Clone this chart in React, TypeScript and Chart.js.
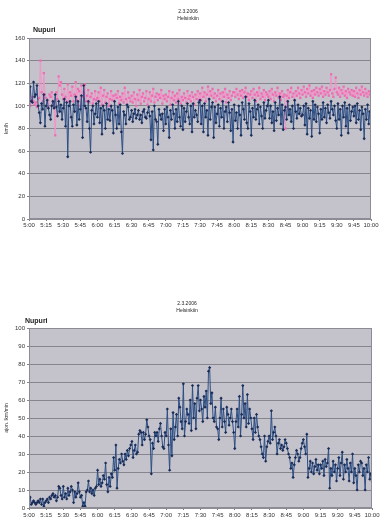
import React, { useEffect, useRef } from "react";
import { Chart, registerables } from "chart.js";
Chart.register(...registerables);

// Tick labels every 15 minutes (5:00 .. 10:00)
const TIME_LABELS = [
  "5:00", "5:15", "5:30", "5:45", "6:00", "6:15", "6:30", "6:45", "7:00", "7:15", "7:30",
  "7:45", "8:00", "8:15", "8:30", "8:45", "9:00", "9:15", "9:30", "9:45", "10:00",
];
const STEP_MIN = 1; // minutes between samples

// Top chart: speeds km/h (one row = 15 minutes)
const topBlue = [
  74, 117, 104, 103, 121, 108, 110, 118, 100, 94, 85, 102, 97, 110, 82,
  100, 105, 98, 92, 88, 100, 104, 98, 110, 99, 91, 104, 95, 101, 88,
  98, 106, 82, 103, 55, 100, 104, 90, 82, 101, 95, 108, 83, 104, 88,
  97, 109, 72, 118, 100, 98, 86, 104, 80, 59, 96, 100, 84, 93, 102,
  90, 104, 85, 98, 75, 100, 96, 80, 102, 88, 97, 87, 100, 96, 76,
  104, 92, 80, 99, 84, 101, 77, 58, 95, 92, 84, 101, 99, 88, 90,
  96, 86, 93, 97, 89, 92, 96, 88, 92, 85, 95, 97, 90, 89, 94,
  99, 91, 70, 95, 61, 100, 88, 86, 66, 97, 92, 88, 93, 78, 97,
  84, 99, 90, 72, 96, 88, 101, 93, 80, 97, 86, 104, 90, 82, 100,
  79, 98, 86, 95, 102, 90, 84, 100, 77, 102, 90, 96, 92, 86, 103,
  105, 84, 100, 77, 102, 90, 96, 74, 106, 88, 99, 103, 72, 99, 85,
  93, 101, 82, 98, 90, 104, 80, 95, 99, 86, 103, 94, 78, 97, 68,
  101, 87, 94, 80, 100, 92, 74, 103, 97, 88, 108, 85, 80, 102, 95,
  74, 98, 90, 105, 88, 97, 101, 84, 99, 91, 80, 103, 89, 96, 100,
  105, 89, 100, 85, 95, 78, 103, 87, 98, 92, 108, 84, 101, 79, 96,
  99, 88, 104, 92, 97, 86, 100, 80, 105, 95, 89, 101, 93, 98, 91,
  92, 100, 83, 102, 75, 98, 89, 96, 73, 104, 88, 101, 86, 99, 93,
  76, 97, 88, 103, 90, 98, 85, 101, 94, 89, 104, 97, 92, 100, 87,
  80, 102, 88, 97, 74, 100, 90, 103, 82, 98, 76, 101, 87, 95, 99,
  91, 100, 85, 102, 88, 96, 79, 99, 93, 71, 97, 88, 101, 84, 95,
  80,
];
const topPink = [
  102, 100, 105, 108, 104, 101, 103, 99, 106, 107, 140, 112, 104, 129, 110,
  107, 103, 99, 110, 108, 112, 104, 103, 74, 112, 106, 126, 118, 121, 110,
  106, 115, 108, 104, 119, 103, 112, 109, 117, 104, 110, 121, 105, 115, 113,
  100, 118, 108, 112, 119, 104, 109, 114, 103, 108, 111, 102, 106, 113, 105,
  107, 112, 104, 116, 101, 109, 114, 103, 108, 111, 100, 106, 113, 105, 109,
  104, 110, 107, 113, 102, 108, 105, 111, 103, 116, 106, 101, 112, 107, 104,
  109, 103, 112, 106, 100, 110, 105, 114, 102, 108, 111, 104, 107, 113, 101,
  106, 112, 104, 109, 115, 103, 108, 111, 105, 110, 107, 114, 102, 109, 106,
  110, 104, 108, 113, 101, 107, 112, 105, 109, 103, 111, 106, 114, 102, 108,
  105, 111, 107, 103, 113, 106, 109, 104, 112, 108, 101, 110, 106, 113, 105,
  111, 105, 116, 108, 112, 104, 110, 117, 106, 113, 109, 115, 107, 111, 104,
  109, 114, 106, 111, 104, 112, 108, 115, 103, 110, 107, 113, 105, 109, 112,
  112, 108, 115, 110, 106, 113, 109, 114, 107, 112, 116, 108, 111, 105, 110,
  113, 107, 115, 110, 104, 112, 109, 116, 106, 111, 108, 114, 105, 112, 110,
  108, 113, 106, 115, 110, 104, 112, 109, 116, 107, 111, 105, 113, 108, 110,
  80, 109, 114, 107, 112, 116, 108, 111, 105, 113, 109, 116, 111, 107, 114,
  110, 117, 112, 108, 115, 111, 118, 109, 113, 107, 114, 110, 116, 112, 109,
  115, 111, 117, 108, 113, 110, 116, 112, 109, 114, 128, 111, 108, 115, 125,
  112, 110, 116, 108, 114, 111, 117, 109, 113, 107, 115, 112, 110, 114, 109,
  113, 108, 116, 111, 107, 114, 110, 117, 112, 109, 115, 111, 108, 113, 110,
  112,
];

// Bottom chart: vehicles / min (one row = 15 minutes)
const bottomBlue = [
  2, 6, 2, 3, 4, 3, 2, 3, 4, 3, 5, 2, 5, 1, 3,
  4, 5, 3, 6, 5, 7, 8, 6, 7, 4, 6, 12, 11, 7, 5,
  12, 6, 8, 5, 11, 7, 9, 12, 10, 3, 9, 6, 8, 14, 9,
  6, 7, 1, 3, 1, 9, 10, 15, 9, 11, 8, 10, 7, 11, 12,
  21, 13, 16, 12, 14, 18, 16, 25, 13, 9, 17, 12, 19, 17, 28,
  21, 35, 11, 22, 27, 25, 30, 26, 24, 30, 27, 32, 29, 33, 35,
  37, 28, 32, 35, 30, 31, 41, 43, 42, 35, 42, 38, 41, 49, 45,
  40, 38, 19, 36, 33, 42, 40, 42, 37, 44, 47, 40, 34, 33, 42,
  40, 55, 35, 21, 44, 29, 53, 38, 45, 52, 40, 61, 56, 48, 44,
  69, 40, 48, 55, 52, 47, 60, 43, 68, 50, 58, 44, 61, 68, 54,
  60, 55, 48, 62, 56, 65, 50, 76, 78, 58, 64, 50, 48, 56, 45,
  44, 38, 50, 61, 45, 55, 48, 42, 56, 52, 46, 50, 55, 48, 42,
  33, 48, 55, 45, 62, 40, 52, 68, 50, 58, 45, 63, 47, 55, 50,
  44, 38, 50, 42, 52, 45, 40, 38, 34, 30, 28, 40, 26, 34, 37,
  40, 36, 54, 38, 42, 45, 40, 30, 36, 38, 33, 35, 32, 34, 38,
  36, 33, 30, 28, 22, 25, 17, 24, 28, 32, 30, 26, 28, 33, 36,
  38, 34, 30, 41, 17, 22, 26, 20, 25, 19, 23, 27, 21, 24, 19,
  24, 22, 26, 18, 27, 23, 25, 33, 11, 22, 18, 26, 20, 24, 15,
  22, 28, 18, 25, 31, 16, 24, 20, 27, 22, 15, 25, 20, 30, 14,
  22, 18, 10, 24, 20, 26, 25, 18, 22, 10, 24, 20, 28, 16, 19,
  15,
];

const FONT = "'Liberation Sans', Arial, sans-serif";

type TextItem = { text: string; x: number; y: number; size: number; bold?: boolean; align?: CanvasTextAlign };

function makePlugins(texts: TextItem[]) {
  return [
    {
      id: "plotBg",
      beforeDraw(chart: any) {
        const { ctx, chartArea } = chart;
        ctx.save();
        ctx.fillStyle = "#c4c2cb";
        ctx.fillRect(chartArea.left, chartArea.top, chartArea.width, chartArea.height);
        ctx.restore();
      },
      afterDraw(chart: any) {
        const { ctx, chartArea } = chart;
        ctx.save();
        ctx.strokeStyle = "#8d8c94";
        ctx.lineWidth = 1;
        ctx.strokeRect(chartArea.left + 0.5, chartArea.top + 0.5, chartArea.width - 1, chartArea.height - 1);
        texts.forEach((t) => {
          ctx.font = `${t.bold ? "bold " : ""}${t.size}px ${FONT}`;
          ctx.fillStyle = "#222";
          ctx.textAlign = t.align || "center";
          ctx.textBaseline = "middle";
          ctx.fillText(t.text, t.x, t.y);
        });
        ctx.restore();
      },
    },
  ];
}

function toPoints(values: number[]) {
  return values.map((v, i) => ({ x: i * STEP_MIN, y: v }));
}

function makeOptions(cfg: {
  yMax: number;
  yStep: number;
  yTitle: string;
  padding: any;
  yWidth: number;
  xHeight: number;
  xPad: number;
}) {
  return {
    responsive: false,
    animation: false as const,
    layout: { padding: cfg.padding },
    plugins: { legend: { display: false }, tooltip: { enabled: false }, title: { display: false } },
    scales: {
      x: {
        type: "linear" as const,
        min: 0,
        max: 300,
        afterFit: (s: any) => {
          s.height = cfg.xHeight;
        },
        ticks: {
          stepSize: 15,
          autoSkip: false,
          maxRotation: 0,
          padding: cfg.xPad,
          font: { size: 6, family: FONT },
          color: "#333",
          callback: (v: any) => TIME_LABELS[Math.round(Number(v) / 15)] ?? "",
        },
        grid: { drawOnChartArea: false, tickLength: 2, color: "#777" },
        border: { color: "#8d8c94" },
      },
      y: {
        min: 0,
        max: cfg.yMax,
        afterFit: (s: any) => {
          s.width = cfg.yWidth;
        },
        ticks: {
          stepSize: cfg.yStep,
          padding: 2,
          font: { size: 6, family: FONT },
          color: "#333",
        },
        title: {
          display: true,
          text: cfg.yTitle,
          font: { size: 5, family: FONT },
          color: "#333",
          padding: 0,
        },
        grid: { color: "#86858d", lineWidth: 1, tickLength: 2 },
        border: { color: "#8d8c94" },
      },
    },
  };
}

const blueStyle = {
  borderColor: "#2e4f84",
  backgroundColor: "#1a2d58",
  borderWidth: 1,
  pointStyle: "rectRot" as const,
  pointRadius: 1.6,
  pointBorderWidth: 0,
};

function TopChart() {
  const ref = useRef<HTMLCanvasElement>(null);
  useEffect(() => {
    const chart = new Chart(ref.current!, {
      type: "line",
      data: {
        datasets: [
          { data: toPoints(topBlue), ...blueStyle, order: 1 },
          {
            data: toPoints(topPink),
            borderColor: "#f394c8",
            backgroundColor: "#ee6cb2",
            borderWidth: 1,
            pointStyle: "rect",
            pointRadius: 1.6,
            pointBorderWidth: 0,
            order: 2,
          },
        ],
      },
      options: makeOptions({
        yMax: 160,
        yStep: 20,
        yTitle: "km/h",
        padding: { left: 4, right: 14, top: 38, bottom: 11 },
        yWidth: 25,
        xHeight: 20,
        xPad: 1,
      }) as any,
      plugins: makePlugins([
        { text: "2.3.2006", x: 188, y: 12, size: 5 },
        { text: "Helsinkiin", x: 188, y: 19, size: 5 },
        { text: "Nupuri", x: 33, y: 30, size: 7, bold: true, align: "left" },
      ]) as any,
    });
    return () => chart.destroy();
  }, []);
  return <canvas ref={ref} width={385} height={250} style={{ display: "block" }} />;
}

function BottomChart() {
  const ref = useRef<HTMLCanvasElement>(null);
  useEffect(() => {
    const chart = new Chart(ref.current!, {
      type: "line",
      data: {
        datasets: [{ data: toPoints(bottomBlue), ...blueStyle }],
      },
      options: makeOptions({
        yMax: 100,
        yStep: 10,
        yTitle: "ajon. lkm/min",
        padding: { left: 4, right: 13, top: 78, bottom: 3 },
        yWidth: 25,
        xHeight: 14,
        xPad: 2,
      }) as any,
      plugins: makePlugins([
        { text: "2.3.2006", x: 187, y: 54, size: 5 },
        { text: "Helsinkiin", x: 187, y: 61, size: 5 },
        { text: "Nupuri", x: 25, y: 71, size: 7, bold: true, align: "left" },
      ]) as any,
    });
    return () => chart.destroy();
  }, []);
  return <canvas ref={ref} width={385} height={275} style={{ display: "block" }} />;
}

export default function App() {
  return (
    <div style={{ position: "absolute", left: 0, top: 0, width: 385, height: 525, background: "#fff" }}>
      <TopChart />
      <BottomChart />
    </div>
  );
}
